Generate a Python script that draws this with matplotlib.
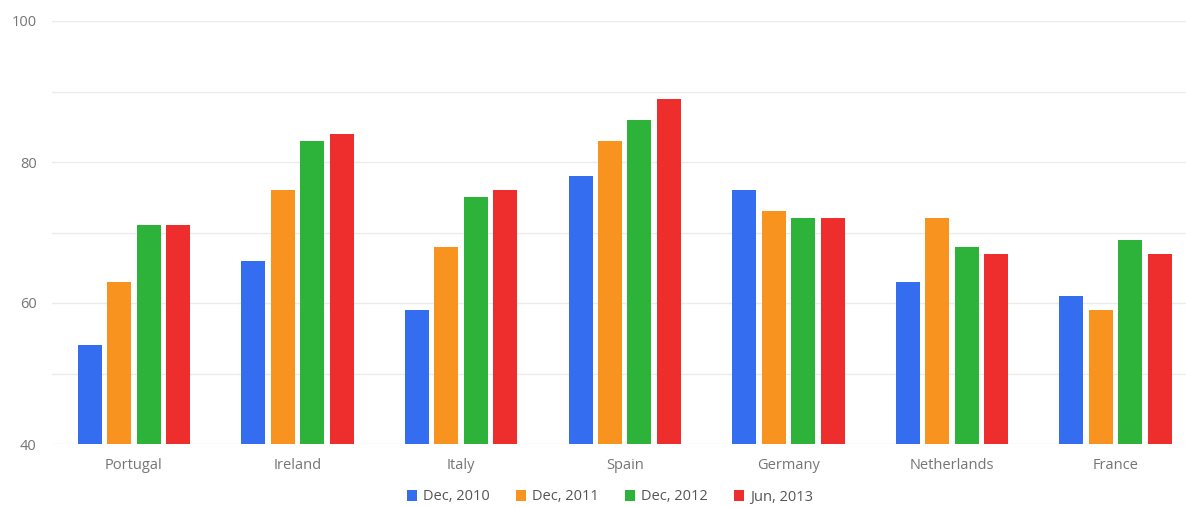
import matplotlib.pyplot as plt
import numpy as np

plt.rcParams['font.family'] = ['Open Sans', 'DejaVu Sans']

countries = ['Portugal', 'Ireland', 'Italy', 'Spain', 'Germany', 'Netherlands', 'France']
series = ['Dec, 2010', 'Dec, 2011', 'Dec, 2012', 'Jun, 2013']
dec2010 = [54, 66, 59, 78, 76, 63, 61]
dec2011 = [63, 76, 68, 83, 73, 72, 59]
dec2012 = [71, 83, 75, 86, 72, 68, 69]
jun2013 = [71, 84, 76, 89, 72, 67, 67]
colors = ['#356DF0', '#F7931E', '#2DB23A', '#EE2D2D']

fig = plt.figure(figsize=(11.86, 5.07), dpi=100)
ax = fig.add_axes([52/1186, 1-444/507, 1-52/1186, (444-21)/507])

x = np.arange(len(countries))
step = 0.18
w = 0.147
for i, (vals, c, name) in enumerate(zip([dec2010, dec2011, dec2012, jun2013], colors, series)):
    ax.bar(x + (i-1.5)*step, np.array(vals) - 40, bottom=40, width=w, color=c, label=name, zorder=3)

ax.set_ylim(40, 100)
ax.set_xlim(-0.5, 6.43)
ax.set_yticks([40, 60, 80, 100])
ax.set_yticks([50, 70, 90], minor=True)
ax.grid(axis='y', which='both', color='#ebebeb', linewidth=1, zorder=0)
ax.set_xticks(x)
ax.set_xticklabels(countries)
ax.tick_params(axis='both', which='both', length=0, labelsize=10.5, labelcolor='#757575')
ax.tick_params(axis='x', pad=10)
ax.tick_params(axis='y', pad=11)
for s in ax.spines.values():
    s.set_visible(False)

fig.legend(loc='center', bbox_to_anchor=(610/1186, 1-497/507), ncol=4, frameon=False,
           handlelength=0.7, handleheight=0.7, handletextpad=0.4, columnspacing=1.8,
           fontsize=10.5, labelcolor='#555555')

fig.savefig('out.png', dpi=100)
